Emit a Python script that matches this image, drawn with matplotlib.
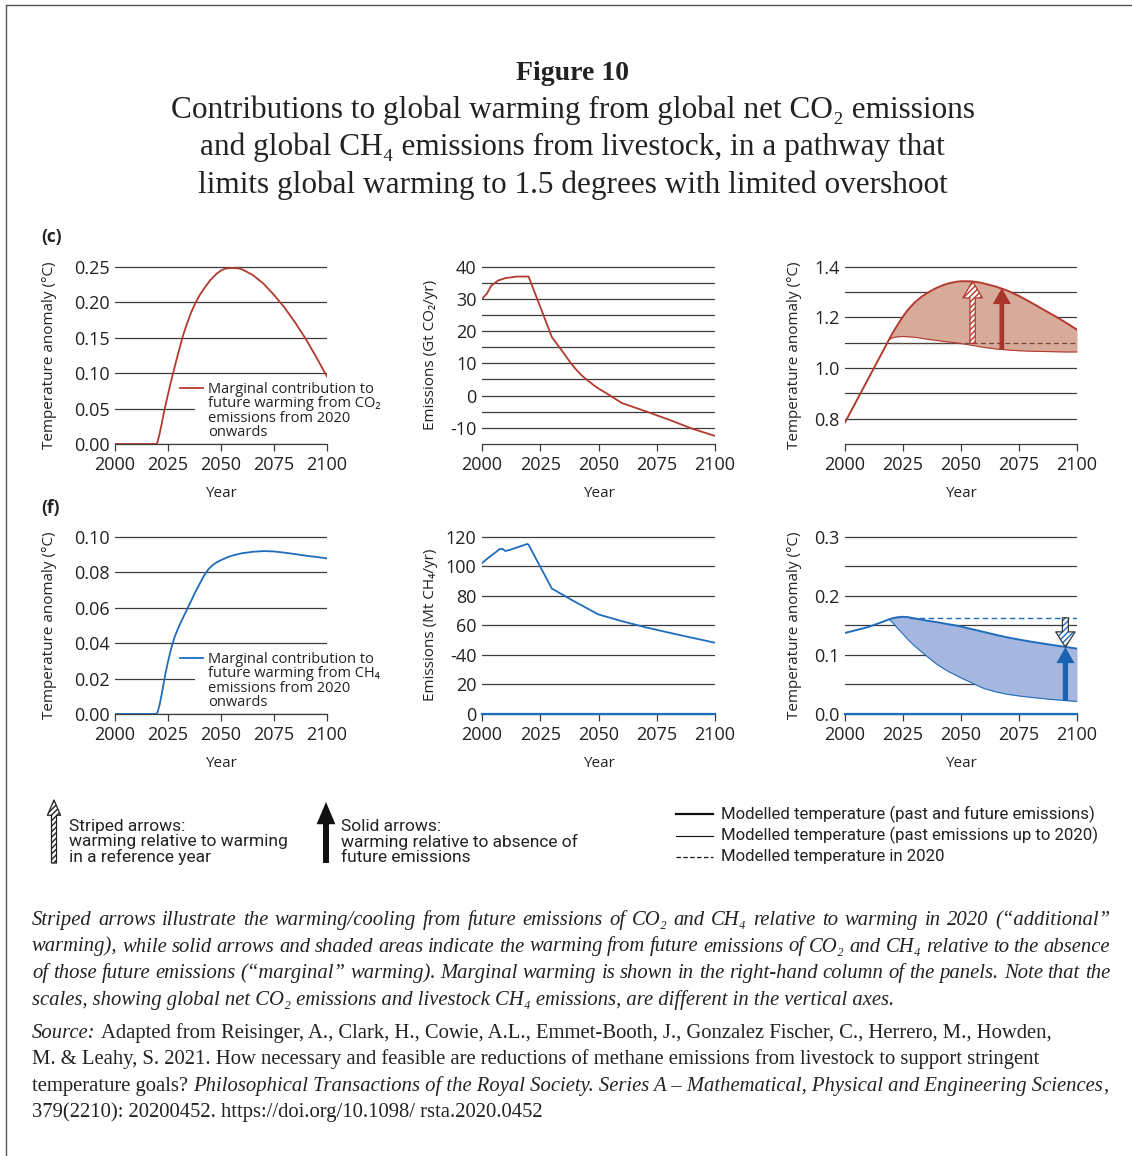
import matplotlib
matplotlib.use("Agg")
import matplotlib.pyplot as plt
from matplotlib.patches import FancyArrowPatch, ArrowStyle, Rectangle
from matplotlib.lines import Line2D

# ---------------- data ----------------
x_ticks = [2000, 2025, 2050, 2075, 2100]

# (c) left: marginal warming from CO2 emitted from 2020 onwards (degC)
co2_marg_year = [2000, 2019.5, 2020, 2021, 2022, 2023, 2024, 2025, 2026, 2027, 2028, 2030, 2032,
                 2034, 2036, 2038, 2040, 2042, 2045, 2048, 2050, 2052, 2055, 2058, 2060, 2065,
                 2070, 2075, 2080, 2085, 2090, 2095, 2100]
co2_marg_temp = [0, 0, 0.002, 0.014, 0.028, 0.043, 0.057, 0.070, 0.083, 0.095, 0.107, 0.130, 0.152,
                 0.170, 0.186, 0.199, 0.210, 0.219, 0.231, 0.240, 0.2445, 0.247, 0.248, 0.2475,
                 0.246, 0.238, 0.226, 0.210, 0.192, 0.171, 0.148, 0.122, 0.095]

# (c) middle: global net CO2 emissions (Gt CO2/yr)
co2_em_year = [2000, 2002, 2004, 2007, 2010, 2015, 2020, 2030, 2033, 2035, 2038, 2040, 2043,
               2045, 2048, 2050, 2053, 2055, 2060, 2070, 2080, 2090, 2100]
co2_em = [30.0, 31.5, 34.1, 35.7, 36.4, 36.9, 36.9, 18.1, 15.2, 13.2, 10.2, 8.4, 6.1,
          4.9, 3.2, 2.2, 0.9, 0.0, -2.3, -4.8, -7.4, -10.2, -12.5]

# shared year grid for the right-hand panels
hist_year = [2000, 2005, 2010, 2015]
fut_year = [2019, 2020, 2021, 2022, 2023, 2025, 2027, 2030, 2033, 2035, 2038, 2040, 2043, 2045,
            2048, 2050, 2053, 2055, 2058, 2060, 2065, 2070, 2075, 2080, 2085, 2090, 2095, 2100]

# (c) right: modelled temperature (degC)
co2_temp_hist = [0.785, 0.871, 0.957, 1.043]
co2_temp_all = [1.112, 1.129, 1.145, 1.160, 1.175, 1.203, 1.228, 1.258, 1.281, 1.293, 1.309,
                1.318, 1.329, 1.334, 1.340, 1.342, 1.342, 1.341, 1.337, 1.333, 1.321, 1.305,
                1.284, 1.259, 1.233, 1.207, 1.180, 1.151]
co2_temp_past = [1.112, 1.117, 1.120, 1.122, 1.123, 1.124, 1.123, 1.121, 1.117, 1.114, 1.110,
                 1.108, 1.104, 1.102, 1.099, 1.096, 1.092, 1.089, 1.084, 1.081, 1.075, 1.071,
                 1.068, 1.066, 1.065, 1.064, 1.063, 1.063]
co2_temp_2020 = 1.097

# (f) left: marginal warming from livestock CH4 from 2020 onwards (degC)
ch4_marg_year = [2000, 2019.5, 2020, 2021, 2022, 2023, 2024, 2025, 2026, 2027, 2028, 2030, 2032,
                 2034, 2036, 2038, 2040, 2042, 2044, 2046, 2048, 2050, 2053, 2056, 2060, 2065,
                 2070, 2075, 2080, 2085, 2090, 2095, 2100]
ch4_marg_temp = [0, 0, 0.0008, 0.005, 0.011, 0.0175, 0.024, 0.0295, 0.0345, 0.039, 0.043, 0.049,
                 0.054, 0.059, 0.064, 0.069, 0.0735, 0.078, 0.0815, 0.0838, 0.0855, 0.0867,
                 0.0883, 0.0895, 0.0906, 0.0914, 0.0918, 0.0916, 0.0909, 0.0901, 0.0892, 0.0885,
                 0.0877]

# (f) middle: livestock CH4 emissions (Mt CH4/yr)
ch4_em_year = [2000, 2003, 2006, 2007.5, 2008.8, 2010, 2012, 2019.5, 2020, 2030, 2040, 2050,
               2060, 2070, 2080, 2090, 2100]
ch4_em = [102.0, 106.0, 109.5, 111.5, 111.7, 110.2, 111.0, 115.0, 114.4, 84.8, 75.8, 67.3,
          62.8, 58.7, 55.1, 51.6, 48.2]

# (f) right: modelled temperature (degC)
ch4_temp_hist = [0.137, 0.142, 0.147, 0.154]
ch4_temp_all = [0.160, 0.1612, 0.1622, 0.163, 0.1637, 0.1643, 0.1638, 0.1615, 0.1595, 0.158,
                0.1562, 0.155, 0.1528, 0.1515, 0.1495, 0.1478, 0.145, 0.1432, 0.1404, 0.1386,
                0.1338, 0.1295, 0.1258, 0.1224, 0.1193, 0.1163, 0.1134, 0.1105]
ch4_temp_past = [0.160, 0.1565, 0.1525, 0.148, 0.1435, 0.135, 0.1265, 0.115, 0.105, 0.0985,
                 0.089, 0.083, 0.0755, 0.071, 0.065, 0.061, 0.0555, 0.052, 0.0465, 0.043,
                 0.0375, 0.0333, 0.0305, 0.0282, 0.0262, 0.0243, 0.0227, 0.0213]
ch4_temp_2020 = 0.1626

# ---------------- styling ----------------
W, H = 1132, 1156
SANS = ["Open Sans", "DejaVu Sans"]
SERIF = ["Liberation Serif", "DejaVu Serif"]
NARROW = ["Liberation Sans Narrow", "Roboto", "DejaVu Sans"]
RED = "#b33a2e"
RED_FILL = "#d7aa9a"
RED_ARROW = "#a8342a"
BLUE = "#1f6cbd"
BLUE_FILL = "#a5b7de"
BLUE_ARROW = "#1b62b2"
GRID = "#3c3c3c"

plt.rcParams["font.family"] = SANS
plt.rcParams["hatch.linewidth"] = 1.0

fig = plt.figure(figsize=(W / 100, H / 100), dpi=100)
renderer = fig.canvas.get_renderer()


def fx(x):
    return x / W


def fy(y):
    return 1 - y / H


def add_ax(left, right, top, bottom):
    return fig.add_axes([fx(left), fy(bottom), (right - left) / W, (bottom - top) / H])


def style(ax, ylim, major, labels, minor, ylabel, ylab_x):
    ax.set_xlim(2000, 2100)
    ax.set_ylim(ylim[0], ylim[1] + (ylim[1] - ylim[0]) * 0.003)
    ax.set_xticks(x_ticks)
    ax.set_yticks(major)
    ax.set_yticklabels(labels)
    ax.set_yticks(minor, minor=True)
    ax.grid(True, which="both", axis="y", color=GRID, lw=0.9)
    ax.set_axisbelow(True)
    for s in ["top", "right", "left"]:
        ax.spines[s].set_visible(False)
    ax.spines["bottom"].set_color(GRID)
    ax.spines["bottom"].set_linewidth(0.9)
    ax.tick_params(axis="y", which="both", length=0, pad=4, labelsize=13, labelcolor="#222222")
    ax.tick_params(axis="x", length=5, width=0.9, color=GRID, pad=3.5, labelsize=13,
                   labelcolor="#222222")
    ax.set_xlabel("Year", fontsize=11, color="#222222")
    ax.xaxis.set_label_coords(0.5, -0.236)
    ax.set_ylabel(ylabel, fontsize=11, color="#222222")
    ax.yaxis.set_label_coords(ylab_x, 0.5)


def arrow(ax, x, y0, y1, hw, hl, tw, fc, ec, hatch=None, lw=0.0, outline=None):
    st = ArrowStyle.Simple(head_length=hl, head_width=hw, tail_width=tw)
    a = FancyArrowPatch((x, y0), (x, y1), arrowstyle=st, mutation_scale=1, fc=fc, ec=ec,
                        hatch=hatch, lw=lw, shrinkA=0, shrinkB=0, zorder=5)
    ax.add_patch(a)
    if outline:
        o = FancyArrowPatch((x, y0), (x, y1), arrowstyle=st, mutation_scale=1, fc="none",
                            ec=outline, lw=0.9, shrinkA=0, shrinkB=0, zorder=6)
        ax.add_patch(o)
    return a


# ---------------- panels ----------------
ax1 = add_ax(115, 327, 266, 444)
style(ax1, (0, 0.25), [0, 0.05, 0.10, 0.15, 0.20, 0.25],
      ["0.00", "0.05", "0.10", "0.15", "0.20", "0.25"], [], "Temperature anomaly (°C)", -0.275)
ax1.plot(co2_marg_year, co2_marg_temp, color=RED, lw=1.3, zorder=3)
ax1.add_patch(Rectangle((2037.7, 0.03), 62.6, 0.045, fc="white", ec="none", zorder=1.5))
ax1.plot([2030.7, 2041.5], [0.079, 0.079], color=RED, lw=1.3, clip_on=False)
ax1.text(2043.9, 0.0465, "Marginal contribution to\nfuture warming from CO₂\nemissions from 2020\nonwards",
         fontsize=10.5, va="center", ha="left", linespacing=0.95, color="#222222", zorder=4)

ax2 = add_ax(482, 715, 266, 444)
style(ax2, (-15, 40), [-10, 0, 10, 20, 30, 40], ["-10", "0", "10", "20", "30", "40"],
      [-5, 5, 15, 25, 35], "Emissions (Gt CO₂/yr)", -0.1875)
ax2.plot(co2_em_year, co2_em, color=RED, lw=1.3, zorder=3)

ax3 = add_ax(845, 1077, 266, 444)
style(ax3, (0.7, 1.4), [0.8, 1.0, 1.2, 1.4], ["0.8", "1.0", "1.2", "1.4"], [0.9, 1.1, 1.3],
      "Temperature anomaly (°C)", -0.187)
ax3.fill_between(fut_year, co2_temp_past, co2_temp_all, color=RED_FILL, lw=0, zorder=1)
ax3.plot([2020, 2100], [co2_temp_2020, co2_temp_2020], color="#6b4a44", lw=0.9, ls=(0, (4, 2.5)),
         zorder=2)
ax3.plot(hist_year + fut_year, co2_temp_hist + co2_temp_all, color=RED, lw=1.4, zorder=3)
ax3.plot(fut_year, co2_temp_past, color=RED, lw=0.8, zorder=3)
arrow(ax3, 2055, co2_temp_2020, 1.342, 14, 12, 3.8, "white", RED, hatch="//////", lw=0.9)
arrow(ax3, 2067.6, 1.072, 1.315, 13, 11.5, 3.4, RED_ARROW, "none")

ax4 = add_ax(115, 327, 536, 714)
style(ax4, (0, 0.10), [0, 0.02, 0.04, 0.06, 0.08, 0.10],
      ["0.00", "0.02", "0.04", "0.06", "0.08", "0.10"], [], "Temperature anomaly (°C)", -0.275)
ax4.plot(ch4_marg_year, ch4_marg_temp, color=BLUE, lw=1.3, zorder=3)
ax4.add_patch(Rectangle((2037.7, 0.012), 62.6, 0.016, fc="white", ec="none", zorder=1.5))
ax4.plot([2030.7, 2041.5], [0.0317, 0.0317], color=BLUE, lw=1.3, clip_on=False)
ax4.text(2043.9, 0.0187, "Marginal contribution to\nfuture warming from CH₄\nemissions from 2020\nonwards",
         fontsize=10.5, va="center", ha="left", linespacing=0.95, color="#222222", zorder=4)

ax5 = add_ax(482, 715, 536, 714)
style(ax5, (0, 120), [0, 20, 40, 60, 80, 100, 120], ["0", "20", "-40", "60", "80", "100", "120"],
      [], "Emissions (Mt CH₄/yr)", -0.1875)
ax5.plot(ch4_em_year, ch4_em, color=BLUE, lw=1.3, zorder=3)
ax5.axhline(0, color=BLUE, lw=1.6, zorder=3, clip_on=False)

ax6 = add_ax(845, 1077, 536, 714)
style(ax6, (0, 0.3), [0, 0.1, 0.2, 0.3], ["0.0", "0.1", "0.2", "0.3"], [0.05, 0.15, 0.25],
      "Temperature anomaly (°C)", -0.187)
ax6.fill_between(fut_year, ch4_temp_past, ch4_temp_all, color=BLUE_FILL, lw=0, zorder=1)
ax6.plot([2028, 2100], [ch4_temp_2020, ch4_temp_2020], color=BLUE, lw=1.0, ls=(0, (4, 2.5)),
         zorder=2)
ax6.plot(hist_year + fut_year, ch4_temp_hist + ch4_temp_all, color=BLUE, lw=1.4, zorder=3)
ax6.plot(fut_year, ch4_temp_past, color=BLUE, lw=0.8, zorder=3)
ax6.axhline(0, color=BLUE, lw=1.6, zorder=3, clip_on=False)
arrow(ax6, 2095, ch4_temp_2020, 0.113, 14, 11, 4.3, "white", BLUE, hatch="//////", lw=0,
      outline="#3a3a3a")
arrow(ax6, 2095, 0.022, 0.113, 13, 11.5, 3.8, BLUE_ARROW, "none")

# panel letters
fig.text(fx(41), fy(237), "(c)", fontsize=12.5, fontweight="bold", va="center", color="#222222")
fig.text(fx(41), fy(508), "(f)", fontsize=12.5, fontweight="bold", va="center", color="#222222")

# ---------------- title ----------------
fig.text(0.506, fy(80), "Figure 10", family=SERIF, fontsize=20, fontweight="bold",
         ha="center", va="baseline", color="#222222")
title_lines = ["Contributions to global warming from global net CO₂ emissions",
               "and global CH₄ emissions from livestock, in a pathway that",
               "limits global warming to 1.5 degrees with limited overshoot"]
for i, line in enumerate(title_lines):
    fig.text(0.506, fy(118 + 37.5 * i), line, family=SERIF, fontsize=22.5, ha="center",
             va="baseline", color="#222222")

# ---------------- legend row ----------------
st_leg = ArrowStyle.Simple(head_length=11, head_width=9.5, tail_width=3.6)
fig.add_artist(FancyArrowPatch((fx(54), fy(863)), (fx(54), fy(800)), arrowstyle=st_leg,
                               mutation_scale=1, fc="white", ec="#222222", hatch="//////",
                               lw=0.9, shrinkA=0, shrinkB=0, transform=fig.transFigure))
st_leg2 = ArrowStyle.Simple(head_length=16, head_width=13.5, tail_width=4.3)
fig.add_artist(FancyArrowPatch((fx(326), fy(863)), (fx(326), fy(802)), arrowstyle=st_leg2,
                               mutation_scale=1, fc="#111111", ec="none", lw=0,
                               shrinkA=0, shrinkB=0, transform=fig.transFigure))
fig.text(fx(69), fy(842), "Striped arrows:\nwarming relative to warming\nin a reference year",
         family=NARROW, fontsize=12.5, va="center", linespacing=0.97, color="#222222")
fig.text(fx(341), fy(842), "Solid arrows:\nwarming relative to absence of\nfuture emissions",
         family=NARROW, fontsize=12.5, va="center", linespacing=0.97, color="#222222")
leg_items = [("Modelled temperature (past and future emissions)", 1.6, "-"),
             ("Modelled temperature (past emissions up to 2020)", 0.8, "-"),
             ("Modelled temperature in 2020", 0.9, (0, (3.5, 2)))]
for i, (lab, lw, ls) in enumerate(leg_items):
    yy = 814 + 21.5 * i
    fig.add_artist(Line2D([fx(676), fx(713)], [fy(yy), fy(yy)], color="#111111", lw=lw, ls=ls))
    fig.text(fx(721), fy(yy), lab, family=NARROW, fontsize=12.05, va="center", color="#222222")

# ---------------- caption ----------------
CAP = dict(family=SERIF, fontsize=14.9, va="baseline", color="#222222")


def px_text(x, y, s, **kw):
    return fig.text(fx(x), fy(y), s, **kw)


def justify_line(y, line, x0, x1, **kw):
    words = line.split()
    objs = [px_text(x0, y, w, **kw) for w in words]
    widths = [o.get_window_extent(renderer).width for o in objs]
    gap = (x1 - x0 - sum(widths)) / (len(words) - 1)
    x = x0
    for o, w in zip(objs, widths):
        o.set_x(fx(x))
        x += w + gap


def rich_line(y, parts, x0, **kw):
    a = px_text(0, 0, "a a", **kw)
    b = px_text(0, 0, "aa", **kw)
    space = a.get_window_extent(renderer).width - b.get_window_extent(renderer).width
    a.remove()
    b.remove()
    x = x0
    for s, italic, sp in parts:
        if sp:
            x += space
        o = px_text(x, y, s, style="italic" if italic else "normal", **kw)
        x += o.get_window_extent(renderer).width


cap_lines = [
    "Striped arrows illustrate the warming/cooling from future emissions of CO₂ and CH₄ relative to warming in 2020 (“additional”",
    "warming), while solid arrows and shaded areas indicate the warming from future emissions of CO₂ and CH₄ relative to the absence",
    "of those future emissions (“marginal” warming). Marginal warming is shown in the right-hand column of the panels. Note that the",
    "scales, showing global net CO₂ emissions and livestock CH₄ emissions, are different in the vertical axes.",
]
for i, line in enumerate(cap_lines):
    y = 925 + 26.5 * i
    if i < 3:
        justify_line(y, line, 32, 1110, style="italic", **CAP)
    else:
        px_text(32, y, line, style="italic", **CAP)

src_lines = [
    [("Source:", True, False),
     ("Adapted from Reisinger, A., Clark, H., Cowie, A.L., Emmet-Booth, J., Gonzalez Fischer, C., Herrero, M., Howden,", False, True)],
    [("M. & Leahy, S. 2021. How necessary and feasible are reductions of methane emissions from livestock to support stringent", False, False)],
    [("temperature goals?", False, False),
     ("Philosophical Transactions of the Royal Society. Series A – Mathematical, Physical and Engineering Sciences", True, True),
     (",", False, False)],
    [("379(2210): 20200452. https://doi.org/10.1098/ rsta.2020.0452", False, False)],
]
for i, parts in enumerate(src_lines):
    rich_line(1038 + 26.3 * i, parts, 32, **CAP)

# frame
fig.add_artist(Line2D([fx(6), 1], [fy(5), fy(5)], color="#555555", lw=1.0))
fig.add_artist(Line2D([fx(6), fx(6)], [fy(5), 0], color="#555555", lw=1.0))

fig.savefig("out.png", dpi=100)
